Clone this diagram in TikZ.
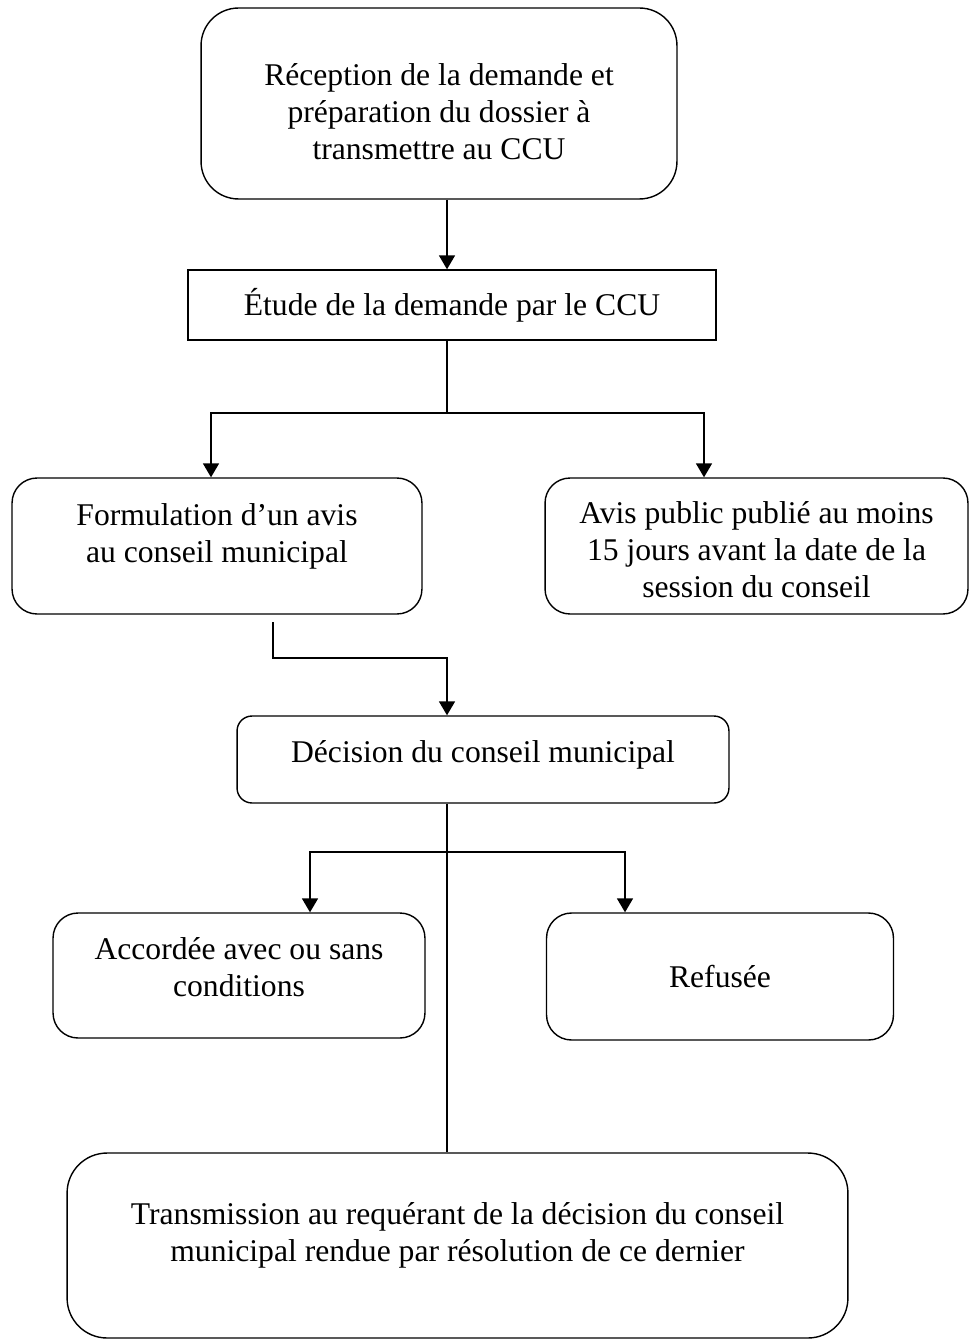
\documentclass[tikz,border=0pt]{standalone}
\usepackage{fontspec}
\setmainfont{Liberation Serif}
\usetikzlibrary{arrows.meta, positioning}

\begin{document}
\begin{tikzpicture}[
  x=0.02cm, y=-0.02cm,
  font=\fontsize{18}{21.3}\selectfont,
  stage/.style={draw, line width=0.8pt, align=center, inner ysep=0pt, rounded corners=0.5cm},
  arrow/.style={-{Triangle[length=2.8mm, width=3.2mm]}, line width=1pt},
  link/.style={line width=0.7pt},
]
\useasboundingbox (0,0) rectangle (969,1341);

% ============ TOP: reception and study ============
\node[stage, rounded corners=0.75cm, minimum width=9.52cm, text height=3.04cm, text depth=0.78cm] (recep) at (439,103.5)
  {Réception de la demande et\\préparation du dossier à\\transmettre au CCU};
\node[stage, sharp corners, minimum width=10.56cm, minimum height=1.4cm] (etude) at (452,305)
  {Étude de la demande par le CCU};

\coordinate (axis) at (447,0);
\draw[arrow] (recep.south -| axis) -- (etude.north -| axis);

% ============ FIRST FORK: opinion and public notice ============
\node[stage, minimum width=8.2cm, text height=1.69cm, text depth=1.03cm] (formul) at (217,546)
  {Formulation d’un avis\\au conseil municipal};
\node[stage, minimum width=8.46cm, text height=2.4cm, text depth=0.32cm] (avis) at (756.5,546)
  {Avis public publié au moins\\15 jours avant la date de la\\session du conseil};

\coordinate (fork1)  at (447,413);
\coordinate (fork1l) at (211,413);
\coordinate (fork1r) at (704,413);
\draw[link] (etude.south -| axis) -- (fork1);
\draw[arrow] (fork1r) -| (fork1l |- formul.north);
\draw[arrow] (fork1l) -| (fork1r |- avis.north);

% ============ DECISION ============
\node[stage, rounded corners=0.3cm, minimum width=9.84cm, text height=0.92cm, text depth=0.82cm] (decis) at (483,759.5)
  {Décision du conseil municipal};

\coordinate (f1)   at (273,622);
\coordinate (bend) at (447,658);
\draw[arrow] (f1) |- (bend) -- (decis.north -| axis);

% ============ SECOND FORK: granted or refused ============
\node[stage, minimum width=7.44cm, text height=1.67cm, text depth=0.83cm] (accord) at (239,975.5)
  {Accordée avec ou sans\\conditions};
\node[stage, minimum width=6.94cm, minimum height=2.54cm] (refus) at (720,976.5)
  {Refusée};

\node[stage, rounded corners=0.8cm, minimum width=15.62cm, text height=2.17cm, text depth=1.53cm] (final) at (457.5,1245.5)
  {Transmission au requérant de la décision du conseil\\municipal rendue par résolution de ce dernier};

\coordinate (fork3l) at (310,852);
\coordinate (fork3r) at (625,852);
\draw[link] (decis.south -| axis) -- (final.north -| axis);
\draw[arrow] (fork3r) -| (fork3l |- accord.north);
\draw[arrow] (fork3l) -| (fork3r |- refus.north);

\end{tikzpicture}
\end{document}
